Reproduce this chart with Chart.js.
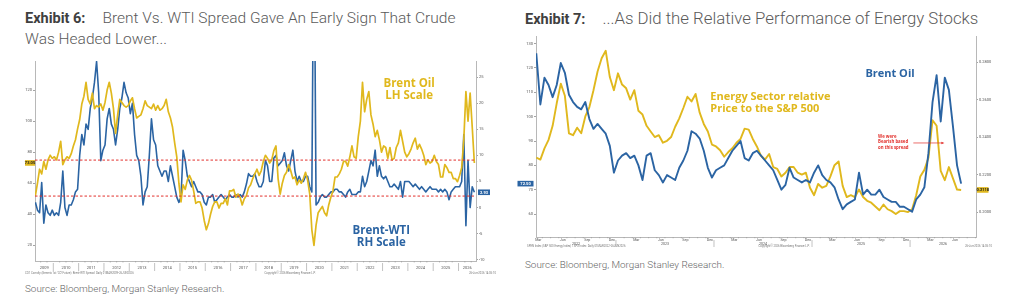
<!DOCTYPE html>
<html>
<head>
<meta charset="utf-8">
<script src="https://cdn.jsdelivr.net/npm/chart.js@4.4.1/dist/chart.umd.min.js"></script>
<style>
body { margin: 0; width: 1024px; height: 301px; background: #fff; position: relative; overflow: hidden; font-family: Roboto, sans-serif; }
.t { position: absolute; font-size: 15.5px; line-height: 20px; color: #5a5a5a; font-weight: 300; white-space: nowrap; }
.t b { font-weight: 700; font-size: 14.5px; color: #404040; margin-right: 17px; }
.src { position: absolute; font-size: 9.9px; line-height: 12px; color: #666; font-weight: 300; white-space: nowrap; }
canvas { position: absolute; }
</style>
</head>
<body>
<div class="t" style="left:25px;top:8px"><b>Exhibit 6:</b>Brent Vs. WTI Spread Gave An Early Sign That Crude<br>Was Headed Lower...</div>
<div class="t" style="left:525px;top:8px;font-size:16.8px"><b>Exhibit 7:</b>...As Did the Relative Performance of Energy Stocks</div>
<canvas id="c1" width="482" height="222" style="left:20px;top:56px"></canvas>
<canvas id="c2" width="490" height="226" style="left:516px;top:32px"></canvas>
<div class="src" style="left:25px;top:283px">Source: Bloomberg, Morgan Stanley Research.</div>
<div class="src" style="left:525px;top:259px">Source: Bloomberg, Morgan Stanley Research.</div>
<script>
// ---- Exhibit 6: monthly, Apr 2009 .. Aug 2026
var c1Start = 2009 + 3 / 12;
var c1Years = [2009, 2010, 2011, 2012, 2013, 2014, 2015, 2016, 2017, 2018, 2019, 2020, 2021, 2022, 2023, 2024, 2025, 2026];
// Brent oil, LH scale
var brentMonthly = [
  52, 60, 69, 66, 74, 69, 75, 78, 76,
  77, 75, 80, 87, 72, 75, 77, 76, 79, 84, 88, 95,
  101, 111, 116, 125, 114, 111, 118, 108, 110, 109, 111, 107,
  112, 120, 125, 118, 108, 92, 104, 114, 112, 110, 109, 110,
  113, 115, 108, 102, 103, 104, 108, 113, 110, 109, 108, 111,
  107, 110, 107, 108, 110, 114, 106, 102, 96, 86, 77, 60,
  48, 59, 56, 62, 65, 62, 55, 47, 48, 48, 44, 36,
  30, 34, 40, 45, 48, 48, 44, 47, 47, 50, 46, 55,
  55, 56, 51, 53, 51, 46, 50, 52, 57, 59, 63, 66,
  69, 65, 68, 74, 78, 76, 73, 75, 81, 84, 63, 53,
  60, 65, 67, 72, 68, 63, 64, 59, 62, 60, 63, 67,
  62, 53, 30, 20, 33, 41, 43, 45, 41, 39, 46, 51,
  55, 64, 64, 66, 69, 74, 74, 71, 77, 84, 77, 76,
  90, 100, 125, 106, 114, 119, 104, 98, 90, 94, 88, 80,
  84, 83, 76, 83, 75, 76, 83, 86, 94, 87, 80, 77,
  79, 82, 86, 89, 82, 85, 82, 78, 72, 75, 73, 74,
  78, 74, 72, 64, 64, 72, 70, 67, 67, 63, 63, 61,
  65, 70, 88, 119, 100, 118, 96, 73.05
];
// Brent-WTI spread, RH scale
var spreadMonthly = [
  1.0, -0.5, -1.0, 4.8, -3.0, 0.5, -1.0, -1.5, -0.5,
  -1.5, -1.0, -1.5, 1.0, 7.0, 0.0, -1.5, 0.5, 0.5, 1.5, 3.0, 3.5,
  10, 14, 12, 16, 15, 19, 21, 24, 28, 22, 9, 11,
  12, 17, 19, 16, 15, 12, 15, 19, 21, 24, 22, 21,
  18, 20, 14, 10, 9, 6, 0.5, 3, 4, 10, 17, 13,
  12, 8, 7, 6, 7, 7, 5, 8, 6, 4, 2, 1,
  2, 11, 9, 6, 5, 4, 5, 4, 3, 3, 2.5, 1,
  0.5, 2, 2, 2.5, 1, 1.5, 2, 2.5, 2, 1.5, 2, 2.5,
  2, 2, 2.5, 2, 2.5, 2, 3, 4.5, 6.5, 6, 6, 6.5,
  5, 4, 4, 5, 9, 8, 5, 5, 9.5, 10, 8, 8.5,
  9, 10.5, 8, 7, 9, 11, 7, 5, 6, 5, 5, 6,
  6, 4, 3, 60, 0.5, 1, 2, 2.5, 2, 2, 2.5, 3,
  3, 3.5, 3.5, 3, 3, 2.5, 2, 3, 3.5, 2.5, 2.5, 2.5,
  3, 3, 6, 4, 5, 7, 9, 8, 11, 6, 8, 6,
  5.5, 6, 5, 4, 4, 4.5, 4, 3.5, 5, 2, 5, 5,
  5, 4.5, 4, 4.5, 4, 3.5, 4, 3.5, 3, 3.5, 4, 3.5,
  3.5, 3.5, 3, 3.5, 3, 3.5, 3, 1.5, 3, 3.5, 4, 4,
  4, 5, 14, -3.5, 9, 0, 4, 2.93
];
var spreadBands = [9.1, 2.2];
var c1LeftTicks = [20, 40, 60, 80, 100, 120];
var c1RightTicks = [-10, -5, 0, 5, 10, 15, 20, 25];

// ---- Exhibit 7: half-monthly, x = months since Jan 2022
var c2Start = 2.25;
var c2Years = [2022, 2023, 2024, 2025, 2026];
var c2Months = ['Mar', 'Jun', 'Sep', 'Dec'];
var brentSemi = [
  126, 105, 116, 113, 108, 113, 122, 118, 109, 106,
  104, 103, 106, 99, 95, 97, 95, 93, 88, 77,
  82, 84, 85, 83, 84, 80, 74, 84, 85, 78,
  76, 73, 76, 75, 74, 79, 82, 86, 94, 93,
  91, 86, 79, 75, 78, 79, 80, 83, 86, 88,
  90, 83, 82, 85, 86, 84, 82, 80, 78, 74,
  70, 72, 79, 75, 74, 73, 74, 73, 77, 80,
  76, 74, 73, 71, 66, 62, 64, 65, 66, 77,
  68, 70, 68, 68, 70, 67, 66, 65, 65, 63,
  63, 62, 61, 66, 68, 71, 85, 106, 117, 98,
  116, 111, 96, 80, 72.5
];
var energyRel = [
  0.229, 0.228, 0.234, 0.2385, 0.246, 0.258, 0.2685, 0.262, 0.242, 0.241,
  0.245, 0.242, 0.251, 0.256, 0.265, 0.275, 0.282, 0.286, 0.272, 0.265,
  0.274, 0.268, 0.266, 0.260, 0.265, 0.254, 0.252, 0.246, 0.243, 0.240,
  0.241, 0.237, 0.238, 0.240, 0.2455, 0.250, 0.2555, 0.2615, 0.259, 0.263,
  0.253, 0.247, 0.243, 0.236, 0.235, 0.233, 0.2295, 0.232, 0.234, 0.237,
  0.239, 0.2445, 0.244, 0.239, 0.235, 0.230, 0.228, 0.231, 0.224, 0.223,
  0.219, 0.221, 0.224, 0.224, 0.221, 0.220, 0.221, 0.213, 0.209, 0.215,
  0.213, 0.214, 0.219, 0.225, 0.227, 0.214, 0.208, 0.209, 0.208, 0.212,
  0.208, 0.206, 0.205, 0.203, 0.201, 0.204, 0.2015, 0.2005, 0.199, 0.2005,
  0.2005, 0.200, 0.2015, 0.209, 0.219, 0.2225, 0.229, 0.249, 0.246, 0.222,
  0.217, 0.224, 0.218, 0.212, 0.2118
];
var c2LeftTicks = [60, 70, 80, 90, 100, 110, 120, 130];
var c2RightTicks = [0.20, 0.22, 0.24, 0.26, 0.28];

var GOLD = '#e0b81d', BLUE = '#2b64a3', RED = '#e2312d', AXIS = '#b8b8b8', TICK = '#666';
var tinyFont = { family: 'Roboto', size: 4 };

function pts(vals, x0, step) {
  return vals.map(function (v, i) { return { x: x0 + i * step, y: v }; });
}
function tickSet(list, fmt) {
  return function (s) { s.ticks = list.map(function (v) { return { value: v, lbl: fmt(v) }; }); };
}
function useLbl(v, i, t) { return t[i].lbl; }
function line(ctx, x1, y1, x2, y2) { ctx.beginPath(); ctx.moveTo(x1, y1); ctx.lineTo(x2, y2); ctx.stroke(); }
function tag(ctx, left, cy, w, txt, bg, fg) {
  ctx.fillStyle = bg;
  ctx.fillRect(left, cy - 2.8, w, 5.6);
  ctx.fillStyle = fg;
  ctx.font = 'bold 4px Roboto';
  ctx.textAlign = 'center';
  ctx.textBaseline = 'middle';
  ctx.fillText(txt, left + w / 2, cy + 0.3);
}
function yAxis(pos, min, max, ticks, fmt, width) {
  return {
    type: 'linear', position: pos, min: min, max: max,
    grid: { drawOnChartArea: false, tickLength: 2, tickColor: TICK, tickWidth: 0.6 },
    border: { color: AXIS, width: 1 },
    ticks: { font: tinyFont, color: '#555', padding: 1, callback: useLbl },
    afterBuildTicks: tickSet(ticks, fmt),
    afterFit: function (s) { s.width = width; }
  };
}

// ---------- Exhibit 6
var X1MIN = 2009.277, X1MAX = 2026.69;
var c1Labels = [
  { text: 'Brent Oil', x: 2024.05, y: 124.1, color: GOLD },
  { text: 'LH Scale', x: 2024.05, y: 116.3, color: GOLD },
  { text: 'Brent-WTI', x: 2022.95, y: 29.2, color: BLUE },
  { text: 'RH Scale', x: 2022.95, y: 21.5, color: BLUE }
];
var c1Decor = {
  id: 'c1Decor',
  afterDraw: function (chart) {
    var ctx = chart.ctx, a = chart.chartArea, x = chart.scales.x, yL = chart.scales.yL, yR = chart.scales.yR;
    ctx.save();
    ctx.strokeStyle = '#999';
    ctx.lineWidth = 0.6;
    for (var q = Math.ceil(X1MIN * 4); q <= X1MAX * 4; q++) {
      var px = x.getPixelForValue(q / 4);
      if (q % 4 === 0) line(ctx, px, a.bottom + 2, px, a.bottom + 10);
      else line(ctx, px, a.bottom, px, a.bottom + 1.5);
    }
    ctx.fillStyle = '#777';
    ctx.font = '2.8px Roboto';
    ctx.textBaseline = 'middle';
    ctx.textAlign = 'left';
    ctx.fillText("CO1 Comdty (Generic 1st 'CO' Future)  Brent-WTI Spread  Daily 01MAR2009-26JUN2026", 5, a.bottom + 12.5);
    ctx.textAlign = 'center';
    ctx.fillText('Copyright\u00a9 2026 Bloomberg Finance L.P.', 270, a.bottom + 12.5);
    ctx.textAlign = 'right';
    ctx.fillText('26-Jun-2026 14:05:10', 476, a.bottom + 12.5);

    tag(ctx, a.left - 10, yL.getPixelForValue(brentMonthly[brentMonthly.length - 1]), 10,
      brentMonthly[brentMonthly.length - 1].toFixed(2), GOLD, '#222');
    tag(ctx, a.right + 2, yR.getPixelForValue(spreadMonthly[spreadMonthly.length - 1]), 12,
      spreadMonthly[spreadMonthly.length - 1].toFixed(2), BLUE, '#fff');

    ctx.font = 'bold 11.5px "Open Sans"';
    ctx.textAlign = 'center';
    ctx.textBaseline = 'middle';
    c1Labels.forEach(function (l) {
      ctx.fillStyle = l.color;
      ctx.fillText(l.text, x.getPixelForValue(l.x), yL.getPixelForValue(l.y));
    });
    ctx.restore();
  }
};

var c1Datasets = spreadBands.map(function (lvl) {
  return {
    data: [{ x: X1MIN, y: lvl }, { x: X1MAX, y: lvl }], yAxisID: 'yR',
    borderColor: RED, borderWidth: 1, borderDash: [2.5, 2], pointRadius: 0, order: 0
  };
});
c1Datasets.push({
  label: 'Brent Oil', data: pts(brentMonthly, c1Start + 0.5 / 12, 1 / 12), yAxisID: 'yL',
  borderColor: GOLD, borderWidth: 1.7, pointRadius: 0, borderJoinStyle: 'round', order: 1
});
c1Datasets.push({
  label: 'Brent-WTI', data: pts(spreadMonthly, c1Start + 0.5 / 12, 1 / 12), yAxisID: 'yR',
  borderColor: BLUE, borderWidth: 1.6, pointRadius: 0, borderJoinStyle: 'round', order: 2
});

new Chart(document.getElementById('c1'), {
  type: 'line',
  data: { datasets: c1Datasets },
  options: {
    responsive: false, animation: false, events: [],
    layout: { padding: { top: 5 } },
    plugins: { legend: { display: false }, tooltip: { enabled: false } },
    scales: {
      x: {
        type: 'linear', min: X1MIN, max: X1MAX,
        grid: { display: false, drawTicks: false },
        border: { color: AXIS, width: 1 },
        ticks: { font: tinyFont, color: '#555', padding: 5, autoSkip: false, maxRotation: 0, callback: useLbl },
        afterBuildTicks: function (s) {
          s.ticks = c1Years.map(function (y) {
            return { value: (Math.max(y, X1MIN) + Math.min(y + 1, X1MAX)) / 2, lbl: String(y) };
          });
        },
        afterFit: function (s) { s.height = 17; }
      },
      yL: yAxis('left', 9.9, 138.7, c1LeftTicks, String, 15),
      yR: yAxis('right', -10.25, 28.1, c1RightTicks, String, 26)
    }
  },
  plugins: [c1Decor]
});

// ---------- Exhibit 7
var X2MIN = 2.215, X2MAX = 56.07;
var c2Labels = [
  { text: 'Energy Sector relative', x: 23.55, y: 108.2, color: GOLD, size: 11 },
  { text: 'Price to the S&P 500', x: 23.55, y: 103.2, color: GOLD, size: 11 },
  { text: 'Brent Oil', x: 42.53, y: 117.5, color: BLUE, size: 11 },
  { text: 'We were', x: 44.08, y: 91.7, color: RED, size: 4.3 },
  { text: 'Bearish based', x: 44.08, y: 89.6, color: RED, size: 4.3 },
  { text: 'on this spread', x: 44.08, y: 87.4, color: RED, size: 4.3 }
];
var c2Arrow = { x1: 48.4, x2: 52.2, y: 89.2 };
var c2Decor = {
  id: 'c2Decor',
  afterDraw: function (chart) {
    var ctx = chart.ctx, a = chart.chartArea, x = chart.scales.x, yL = chart.scales.yL, yR = chart.scales.yR;
    ctx.save();
    ctx.strokeStyle = '#999';
    ctx.lineWidth = 0.6;
    for (var m = Math.ceil(X2MIN); m <= X2MAX; m++) {
      var px = x.getPixelForValue(m);
      if (m % 12 === 0) line(ctx, px, a.bottom + 3, px, a.bottom + 10);
      else line(ctx, px, a.bottom, px, a.bottom + 1.3);
    }
    ctx.fillStyle = '#777';
    ctx.font = '2.8px Roboto';
    ctx.textBaseline = 'middle';
    ctx.textAlign = 'left';
    ctx.fillText('SPEN Index (S&P 500 Energy Index) / SPX Index  Daily 01MAR2022-26JUN2026', 11, a.bottom + 9.5);
    ctx.textAlign = 'center';
    ctx.fillText('Copyright\u00a9 2026 Bloomberg Finance L.P.', 268, a.bottom + 9.5);
    ctx.textAlign = 'right';
    ctx.fillText('26-Jun-2026 14:05:10', 476, a.bottom + 9.5);

    tag(ctx, a.left - 18.5, yL.getPixelForValue(brentSemi[brentSemi.length - 1]), 16,
      brentSemi[brentSemi.length - 1].toFixed(2), BLUE, '#fff');
    tag(ctx, a.right + 1, yR.getPixelForValue(energyRel[energyRel.length - 1]), 11.5,
      energyRel[energyRel.length - 1].toFixed(4), GOLD, '#222');

    c2Labels.forEach(function (l) {
      ctx.fillStyle = l.color;
      ctx.font = 'bold ' + l.size + 'px "Open Sans"';
      ctx.textAlign = 'left';
      ctx.textBaseline = 'middle';
      ctx.fillText(l.text, x.getPixelForValue(l.x), yL.getPixelForValue(l.y));
    });
    var ax1 = x.getPixelForValue(c2Arrow.x1), ax2 = x.getPixelForValue(c2Arrow.x2), ay = yL.getPixelForValue(c2Arrow.y);
    ctx.strokeStyle = RED;
    ctx.fillStyle = RED;
    ctx.lineWidth = 0.7;
    line(ctx, ax1, ay, ax2 - 2, ay);
    ctx.beginPath();
    ctx.moveTo(ax2, ay);
    ctx.lineTo(ax2 - 3, ay - 1.3);
    ctx.lineTo(ax2 - 3, ay + 1.3);
    ctx.closePath();
    ctx.fill();
    ctx.restore();
  }
};

var c2XTicks = [];
for (var q = 0; q < 18; q++) {
  c2XTicks.push({ value: 2.5 + q * 3, lbl: c2Months[q % 4] });
}
c2Years.forEach(function (y) {
  var s = (y - 2022) * 12;
  c2XTicks.push({ value: (Math.max(s, X2MIN) + Math.min(s + 12, X2MAX)) / 2, lbl: ['', String(y)] });
});

new Chart(document.getElementById('c2'), {
  type: 'line',
  data: {
    datasets: [
      {
        label: 'Brent Oil', data: pts(brentSemi, c2Start, 0.5), yAxisID: 'yL',
        borderColor: BLUE, borderWidth: 1.9, pointRadius: 0, borderJoinStyle: 'round', order: 1
      },
      {
        label: 'Energy Sector relative Price to the S&P 500', data: pts(energyRel, c2Start, 0.5), yAxisID: 'yR',
        borderColor: GOLD, borderWidth: 1.9, pointRadius: 0, borderJoinStyle: 'round', order: 2
      }
    ]
  },
  options: {
    responsive: false, animation: false, events: [],
    layout: { padding: { top: 4 } },
    plugins: { legend: { display: false }, tooltip: { enabled: false } },
    scales: {
      x: {
        type: 'linear', min: X2MIN, max: X2MAX,
        grid: { display: false, drawTicks: false },
        border: { color: AXIS, width: 1 },
        ticks: { font: { family: 'Roboto', size: 3.6, lineHeight: 1.1 }, color: '#555', padding: 1.5, autoSkip: false, maxRotation: 0, callback: useLbl },
        afterBuildTicks: function (s) { s.ticks = c2XTicks.map(function (t) { return { value: t.value, lbl: t.lbl }; }); },
        afterFit: function (s) { s.height = 21; }
      },
      yL: yAxis('left', 50.6, 133.1, c2LeftTicks, String, 20),
      yR: yAxis('right', 0.1867, 0.2939, c2RightTicks, function (v) { return v.toFixed(4); }, 30)
    }
  },
  plugins: [c2Decor]
});
</script>
</body>
</html>
